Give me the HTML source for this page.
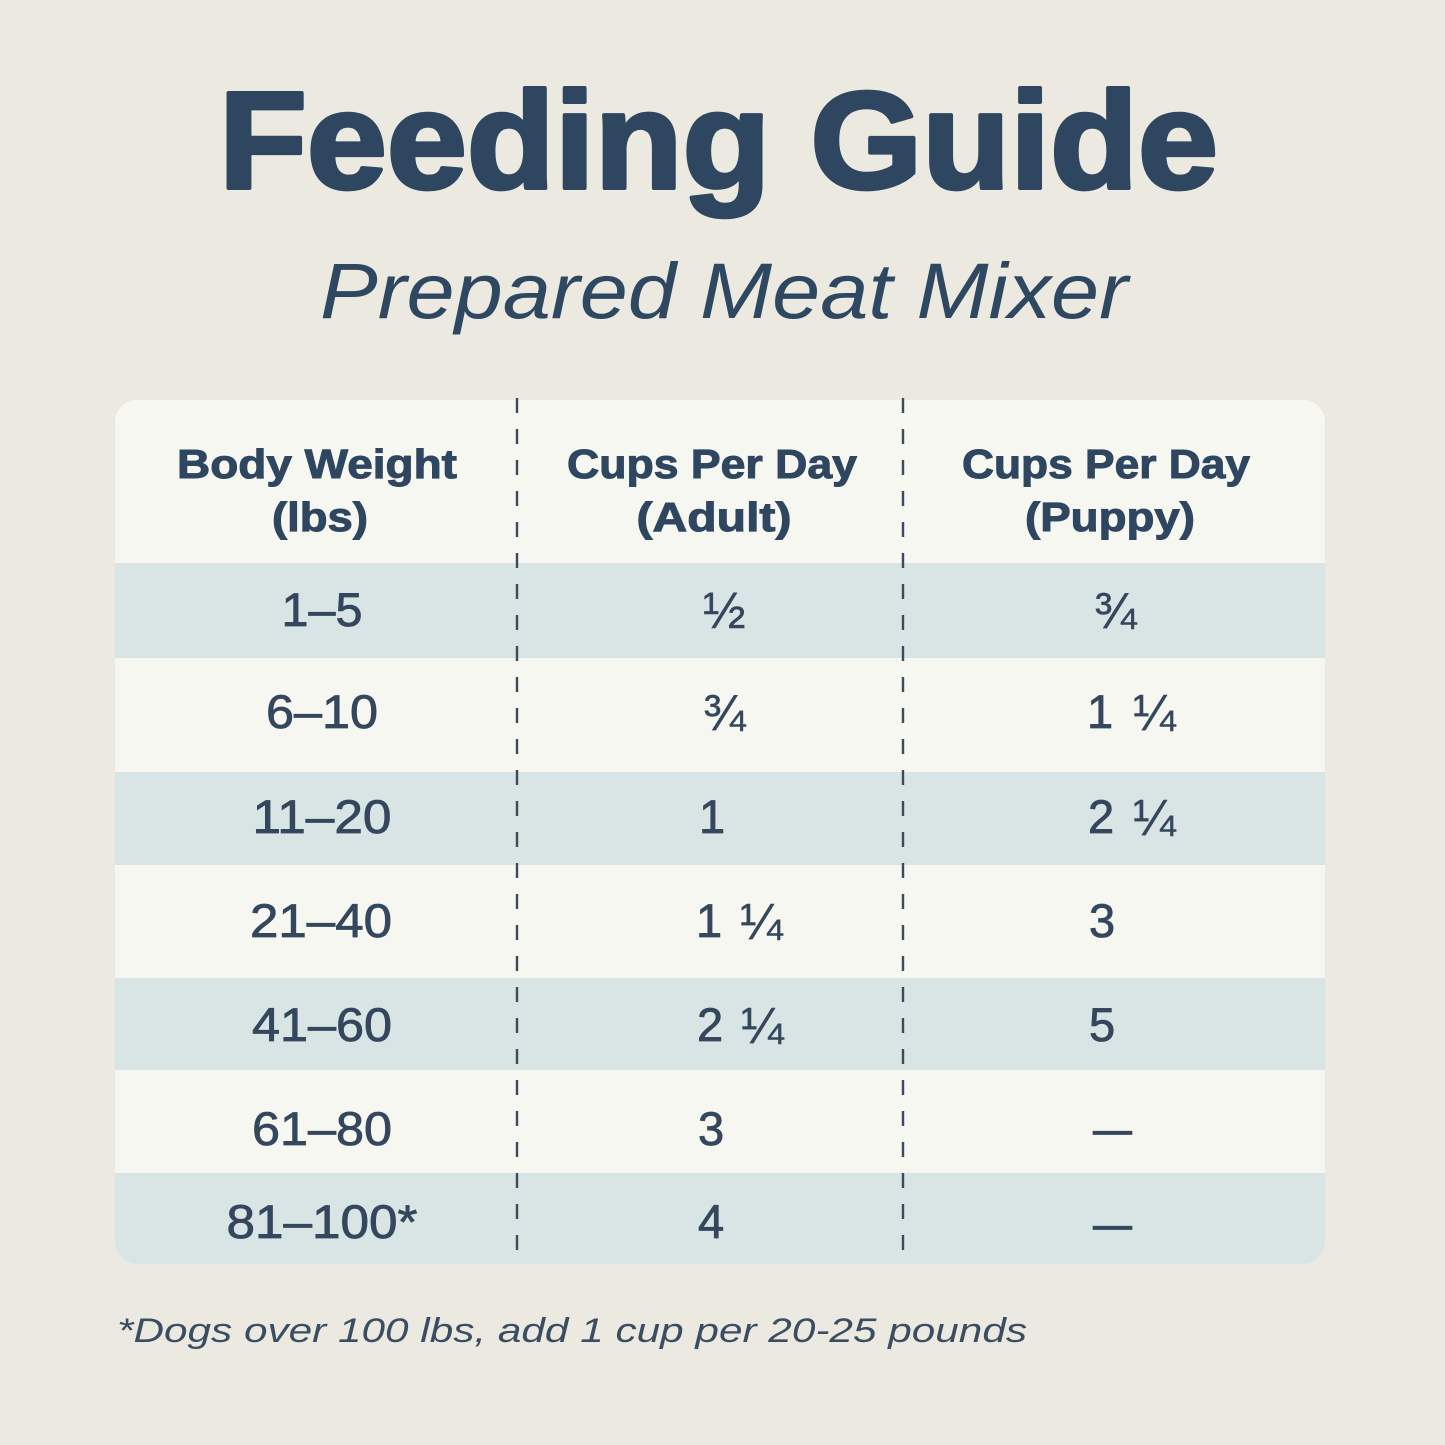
<!DOCTYPE html>
<html>
<head>
<meta charset="utf-8">
<style>
  html,body{margin:0;padding:0;background:#ece9e1;}
  svg{display:block;}
  text{font-family:"Liberation Sans",Arial,sans-serif;}
  .fr{font-size:51px;stroke-width:0.4;}
</style>
</head>
<body>
<svg width="1445" height="1445" viewBox="0 0 1445 1445" xmlns="http://www.w3.org/2000/svg">
  <rect x="0" y="0" width="1445" height="1445" fill="#ece9e1"/>

  <!-- Title -->
  <text x="219" y="188" font-size="138" font-weight="700" fill="#2e4660" stroke="#2e4660" stroke-width="4" stroke-linejoin="round" textLength="999" lengthAdjust="spacingAndGlyphs">Feeding Guide</text>
  <text x="320" y="318" font-size="79" font-style="italic" fill="#2f4862" textLength="808" lengthAdjust="spacingAndGlyphs">Prepared Meat Mixer</text>

  <!-- Card -->
  <defs>
    <clipPath id="card">
      <rect x="115" y="400" width="1210" height="864" rx="22" ry="22"/>
    </clipPath>
  </defs>
  <g clip-path="url(#card)">
    <rect x="115" y="400" width="1210" height="864" fill="#f7f7f2"/>
    <rect x="115" y="563" width="1210" height="95" fill="#d9e4e5"/>
    <rect x="115" y="772" width="1210" height="93" fill="#d9e4e5"/>
    <rect x="115" y="978" width="1210" height="92" fill="#d9e4e5"/>
    <rect x="115" y="1173" width="1210" height="91" fill="#d9e4e5"/>
  </g>

  <!-- Dashed dividers -->
  <line x1="517" y1="398" x2="517" y2="1262" stroke="#3b4b5d" stroke-width="2.4" stroke-dasharray="15 16"/>
  <line x1="903" y1="398" x2="903" y2="1262" stroke="#3b4b5d" stroke-width="2.4" stroke-dasharray="15 16"/>

  <!-- Headers -->
  <g font-weight="700" font-size="41" fill="#2e4660" stroke="#2e4660" stroke-width="1" text-anchor="middle">
    <text x="317" y="478" textLength="280" lengthAdjust="spacingAndGlyphs">Body Weight</text>
    <text x="320" y="531" textLength="96" lengthAdjust="spacingAndGlyphs">(lbs)</text>
    <text x="712" y="478" textLength="290" lengthAdjust="spacingAndGlyphs">Cups Per Day</text>
    <text x="714" y="531" textLength="155" lengthAdjust="spacingAndGlyphs">(Adult)</text>
    <text x="1106" y="478" textLength="288" lengthAdjust="spacingAndGlyphs">Cups Per Day</text>
    <text x="1110" y="531" textLength="170" lengthAdjust="spacingAndGlyphs">(Puppy)</text>
  </g>

  <!-- Column 1 values -->
  <g font-size="47" fill="#34475d" stroke="#34475d" stroke-width="0.8" text-anchor="middle">
    <text x="322" y="626" textLength="81" lengthAdjust="spacingAndGlyphs">1–5</text>
    <text x="322" y="728" textLength="112" lengthAdjust="spacingAndGlyphs">6–10</text>
    <text x="322" y="833" textLength="139" lengthAdjust="spacingAndGlyphs">11–20</text>
    <text x="321" y="937" textLength="142" lengthAdjust="spacingAndGlyphs">21–40</text>
    <text x="322" y="1041" textLength="140" lengthAdjust="spacingAndGlyphs">41–60</text>
    <text x="322" y="1145" textLength="140" lengthAdjust="spacingAndGlyphs">61–80</text>
    <text x="322" y="1238" textLength="191" lengthAdjust="spacingAndGlyphs">81–100*</text>
  </g>

  <!-- Column 2 values -->
  <g font-size="47" fill="#34475d" stroke="#34475d" stroke-width="0.8">
    <text x="703" y="628" class="fr">½</text>
    <text x="703" y="730" class="fr">¾</text>
    <text x="699" y="833">1</text>
    <text x="696" y="937">1<tspan class="fr" dx="18" dy="2">¼</tspan></text>
    <text x="697" y="1041">2<tspan class="fr" dx="18" dy="2">¼</tspan></text>
    <text x="698" y="1145">3</text>
    <text x="698" y="1238">4</text>
  </g>

  <!-- Column 3 values -->
  <g font-size="47" fill="#34475d" stroke="#34475d" stroke-width="0.8">
    <text x="1094" y="628" class="fr">¾</text>
    <text x="1087" y="728">1<tspan class="fr" dx="20" dy="2">¼</tspan></text>
    <text x="1088" y="833">2<tspan class="fr" dx="19" dy="2">¼</tspan></text>
    <text x="1089" y="937">3</text>
    <text x="1089" y="1041">5</text>
    <text x="1093" y="1145" textLength="39" lengthAdjust="spacingAndGlyphs">—</text>
    <text x="1093" y="1240" textLength="39" lengthAdjust="spacingAndGlyphs">—</text>
  </g>

  <!-- Footnote -->
  <text x="117" y="1342" font-size="34" font-style="italic" fill="#3a4d63" textLength="910" lengthAdjust="spacingAndGlyphs">*Dogs over 100 lbs, add 1 cup per 20-25 pounds</text>
</svg>
</body>
</html>
